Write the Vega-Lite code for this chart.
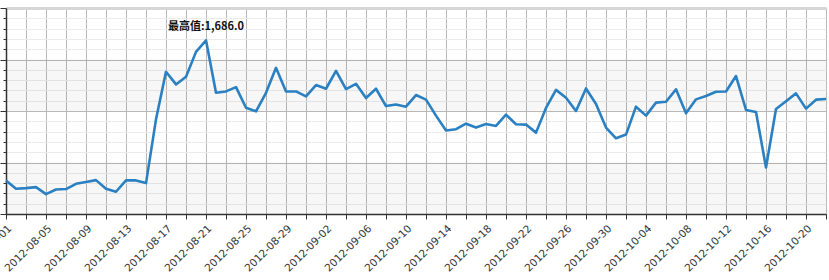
{
  "$schema": "https://vega.github.io/schema/vega-lite/v6.json",
  "width": 820,
  "height": 206,
  "autosize": {"type": "none"},
  "padding": {"left": 6, "top": 8, "right": 3, "bottom": 66},
  "background": "#ffffff",
  "config": {"view": {"stroke": null}},
  "resolve": {"axis": {"y": "independent", "x": "independent"}},
  "datasets": {
    "bands": [{"lo": 0, "hi": 500}, {"lo": 1000, "hi": 1500}],
    "series": [
      {"date": "2012-08-01", "value": 326},
      {"date": "2012-08-02", "value": 245},
      {"date": "2012-08-03", "value": 251},
      {"date": "2012-08-04", "value": 261},
      {"date": "2012-08-05", "value": 193},
      {"date": "2012-08-06", "value": 238},
      {"date": "2012-08-07", "value": 242},
      {"date": "2012-08-08", "value": 293},
      {"date": "2012-08-09", "value": 310},
      {"date": "2012-08-10", "value": 329},
      {"date": "2012-08-11", "value": 245},
      {"date": "2012-08-12", "value": 216},
      {"date": "2012-08-13", "value": 326},
      {"date": "2012-08-14", "value": 326},
      {"date": "2012-08-15", "value": 300},
      {"date": "2012-08-16", "value": 919},
      {"date": "2012-08-17", "value": 1381},
      {"date": "2012-08-18", "value": 1258},
      {"date": "2012-08-19", "value": 1332},
      {"date": "2012-08-20", "value": 1574},
      {"date": "2012-08-21", "value": 1686},
      {"date": "2012-08-22", "value": 1177},
      {"date": "2012-08-23", "value": 1190},
      {"date": "2012-08-24", "value": 1232},
      {"date": "2012-08-25", "value": 1032},
      {"date": "2012-08-26", "value": 997},
      {"date": "2012-08-27", "value": 1177},
      {"date": "2012-08-28", "value": 1419},
      {"date": "2012-08-29", "value": 1190},
      {"date": "2012-08-30", "value": 1190},
      {"date": "2012-08-31", "value": 1142},
      {"date": "2012-09-01", "value": 1252},
      {"date": "2012-09-02", "value": 1216},
      {"date": "2012-09-03", "value": 1390},
      {"date": "2012-09-04", "value": 1213},
      {"date": "2012-09-05", "value": 1264},
      {"date": "2012-09-06", "value": 1126},
      {"date": "2012-09-07", "value": 1216},
      {"date": "2012-09-08", "value": 1048},
      {"date": "2012-09-09", "value": 1064},
      {"date": "2012-09-10", "value": 1042},
      {"date": "2012-09-11", "value": 1155},
      {"date": "2012-09-12", "value": 1110},
      {"date": "2012-09-13", "value": 955},
      {"date": "2012-09-14", "value": 810},
      {"date": "2012-09-15", "value": 823},
      {"date": "2012-09-16", "value": 877},
      {"date": "2012-09-17", "value": 839},
      {"date": "2012-09-18", "value": 874},
      {"date": "2012-09-19", "value": 855},
      {"date": "2012-09-20", "value": 964},
      {"date": "2012-09-21", "value": 871},
      {"date": "2012-09-22", "value": 868},
      {"date": "2012-09-23", "value": 790},
      {"date": "2012-09-24", "value": 1030},
      {"date": "2012-09-25", "value": 1205},
      {"date": "2012-09-26", "value": 1129},
      {"date": "2012-09-27", "value": 1000},
      {"date": "2012-09-28", "value": 1219},
      {"date": "2012-09-29", "value": 1068},
      {"date": "2012-09-30", "value": 839},
      {"date": "2012-10-01", "value": 735},
      {"date": "2012-10-02", "value": 771},
      {"date": "2012-10-03", "value": 1042},
      {"date": "2012-10-04", "value": 955},
      {"date": "2012-10-05", "value": 1081},
      {"date": "2012-10-06", "value": 1090},
      {"date": "2012-10-07", "value": 1210},
      {"date": "2012-10-08", "value": 977},
      {"date": "2012-10-09", "value": 1113},
      {"date": "2012-10-10", "value": 1145},
      {"date": "2012-10-11", "value": 1187},
      {"date": "2012-10-12", "value": 1190},
      {"date": "2012-10-13", "value": 1339},
      {"date": "2012-10-14", "value": 1010},
      {"date": "2012-10-15", "value": 990},
      {"date": "2012-10-16", "value": 452},
      {"date": "2012-10-17", "value": 1019},
      {"date": "2012-10-18", "value": 1094},
      {"date": "2012-10-19", "value": 1171},
      {"date": "2012-10-20", "value": 1023},
      {"date": "2012-10-21", "value": 1110},
      {"date": "2012-10-22", "value": 1116}
    ],
    "peak": [{"date": "2012-08-21", "value": 1686, "label": "最高值:1,686.0"}]
  },
  "layer": [
    {
      "data": {"name": "bands"},
      "mark": {"type": "rect", "fill": "#000000", "fillOpacity": 0.03},
      "encoding": {
        "y": {"field": "lo", "type": "quantitative", "scale": {"domain": [0, 2000], "nice": false}, "axis": null},
        "y2": {"field": "hi"}
      }
    },
    {
      "data": {"name": "series"},
      "mark": {"type": "line", "color": "#2b80c2", "strokeWidth": 2.6, "strokeJoin": "round"},
      "encoding": {
        "x": {
          "field": "date",
          "type": "temporal",
          "scale": {"type": "utc", "domain": ["2012-08-01", "2012-10-22"]},
          "axis": {
            "title": null,
            "values": [1343779200000, 1343952000000, 1344124800000, 1344297600000, 1344470400000, 1344643200000, 1344816000000, 1344988800000, 1345161600000, 1345334400000, 1345507200000, 1345680000000, 1345852800000, 1346025600000, 1346198400000, 1346371200000, 1346544000000, 1346716800000, 1346889600000, 1347062400000, 1347235200000, 1347408000000, 1347580800000, 1347753600000, 1347926400000, 1348099200000, 1348272000000, 1348444800000, 1348617600000, 1348790400000, 1348963200000, 1349136000000, 1349308800000, 1349481600000, 1349654400000, 1349827200000, 1350000000000, 1350172800000, 1350345600000, 1350518400000, 1350691200000, 1350864000000],
            "labelExpr": "round((datum.value - 1343779200000) / 86400000) % 4 === 0 ? utcFormat(datum.value, '%Y-%m-%d') : ''",
            "labelAngle": -45,
            "labelFont": "DejaVu Sans",
            "labelFontSize": 10.5,
            "labelColor": "#333333",
            "labelOverlap": false,
            "labelBound": false,
            "labelFlush": false,
            "labelPadding": 4,
            "tickSize": 5,
            "tickColor": "#333333",
            "domainColor": "#333333",
            "domainWidth": 1.5,
            "grid": true,
            "gridColor": "#b8b8b8",
            "gridWidth": 1
          }
        },
        "y": {
          "field": "value",
          "type": "quantitative",
          "scale": {"domain": [0, 2000], "nice": false},
          "axis": {
            "title": null,
            "labels": false,
            "values": [0, 100, 200, 300, 400, 500, 600, 700, 800, 900, 1000, 1100, 1200, 1300, 1400, 1500, 1600, 1700, 1800, 1900, 2000],
            "tickColor": "#333333",
            "domainColor": "#333333",
            "domainWidth": 1.5,
            "grid": true,
            "tickSize": {"condition": {"test": "datum.value % 500 === 0", "value": 6}, "value": 3},
            "gridColor": {"condition": [{"test": "datum.value === 2000", "value": "#d6d6d6"}, {"test": "datum.value % 500 === 0", "value": "#b8b8b8"}], "value": "#ebebeb"},
            "gridWidth": {"condition": {"test": "datum.value === 2000", "value": 3}, "value": 1}
          }
        }
      }
    },
    {
      "data": {"name": "peak"},
      "mark": {"type": "text", "dy": -13, "font": "Noto Sans CJK SC", "fontSize": 11, "fontWeight": "bold", "color": "#111111", "align": "center"},
      "encoding": {
        "x": {"field": "date", "type": "temporal", "axis": null},
        "y": {"field": "value", "type": "quantitative", "axis": null},
        "text": {"field": "label"}
      }
    }
  ]
}
